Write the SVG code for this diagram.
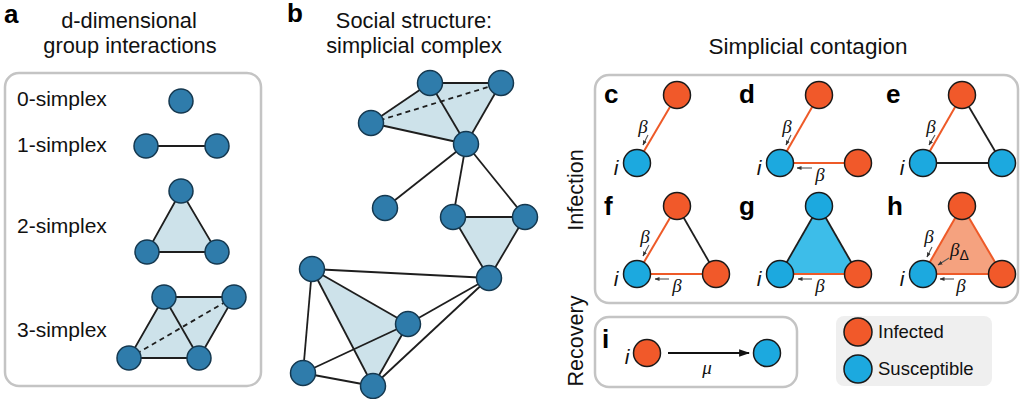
<svg xmlns="http://www.w3.org/2000/svg" width="1024" height="399" viewBox="0 0 1024 399">
<defs>
<style>
.t{font-family:"Liberation Sans",Arial,sans-serif;font-size:21px;fill:#111}
.ti{font-size:21.8px}
.tc{text-anchor:middle}
.lb{font-family:"Liberation Sans",Arial,sans-serif;font-weight:bold;font-size:26px;fill:#000}
.gk{font-family:"Liberation Serif","Times New Roman",serif;font-style:italic;font-size:19px;fill:#111}
.iv{font-family:"Liberation Sans",Arial,sans-serif;font-style:italic;font-size:21px;fill:#111;text-anchor:middle}
.box{fill:none;stroke:#c4c4c4;stroke-width:2.5}
.sn{fill:#2f7cab;stroke:#15384f;stroke-width:1.5}
.sf{fill:#cde2ea;stroke:none}
.se{stroke:#1e1e1e;stroke-width:1.8;fill:none}
.sd{stroke:#1e1e1e;stroke-width:1.8;fill:none;stroke-dasharray:5,4}
.inf{fill:#f1592a;stroke:#1a1a1a;stroke-width:1.5}
.sus{fill:#1ca9df;stroke:#1a1a1a;stroke-width:1.5}
.oe{stroke:#ee5a28;stroke-width:2;fill:none}
.ke{stroke:#1e1e1e;stroke-width:1.8;fill:none}
.ar{stroke:#555;stroke-width:1.1;fill:none;marker-end:url(#sa)}
</style>
<marker id="sa" viewBox="0 0 10 10" refX="9" refY="5" markerWidth="5" markerHeight="5" orient="auto" markerUnits="userSpaceOnUse">
<path d="M0,1 L10,5 L0,9 z" fill="#333"/>
</marker>
<marker id="ba" viewBox="0 0 10 10" refX="9" refY="5" markerWidth="11" markerHeight="11" orient="auto" markerUnits="userSpaceOnUse">
<path d="M0,1.5 L10,5 L0,8.5 z" fill="#111"/>
</marker>
</defs>

<!-- Panel a -->
<g id="panel-a">
<text class="lb" x="4" y="23">a</text>
<text class="t ti tc" x="129" y="28">d-dimensional</text>
<text class="t ti tc" x="130" y="53">group interactions</text>
<rect class="box" x="5" y="73" width="256" height="313" rx="14"/>
<text class="t" x="17" y="106">0-simplex</text>
<text class="t" x="17" y="152">1-simplex</text>
<text class="t" x="17" y="233">2-simplex</text>
<text class="t" x="17" y="337">3-simplex</text>
</g>
<g id="simplex-0"><circle class="sn" cx="181" cy="101" r="12"/></g>
<g id="simplex-1">
<line class="se" x1="146" y1="146" x2="217" y2="146"/>
<circle class="sn" cx="146" cy="146" r="12"/><circle class="sn" cx="217" cy="146" r="12"/>
</g>
<g id="simplex-2">
<polygon class="sf" points="181,191 147,252 217,252"/>
<polygon class="se" points="181,191 147,252 217,252"/>
<circle class="sn" cx="181" cy="191" r="12"/><circle class="sn" cx="147" cy="252" r="12"/><circle class="sn" cx="217" cy="252" r="12"/>
</g>
<g id="simplex-3">
<polygon class="sf" points="164,297 234,297 199,358 129,358"/>
<polygon class="se" points="164,297 234,297 199,358 129,358"/>
<line class="se" x1="164" y1="297" x2="199" y2="358"/>
<line class="sd" x1="234" y1="297" x2="129" y2="358"/>
<circle class="sn" cx="164" cy="297" r="12"/><circle class="sn" cx="234" cy="297" r="12"/><circle class="sn" cx="129" cy="358" r="12"/><circle class="sn" cx="199" cy="358" r="12"/>
</g>

<!-- Panel b -->
<g id="panel-b">
<text class="lb" x="287" y="22">b</text>
<text class="t ti tc" x="414" y="28">Social structure:</text>
<text class="t ti tc" x="414" y="53">simplicial complex</text>
<polygon class="sf" points="371,123 430,83 501,83 466,144"/>
<polygon class="sf" points="453,217 525,217 489,278"/>
<polygon class="sf" points="312,269 408,324 373,386"/>
</g>
<g id="connectors-b">
<line class="se" x1="430" y1="83" x2="501" y2="83"/>
<line class="se" x1="430" y1="83" x2="371" y2="123"/>
<line class="se" x1="430" y1="83" x2="466" y2="144"/>
<line class="se" x1="501" y1="83" x2="466" y2="144"/>
<line class="se" x1="371" y1="123" x2="466" y2="144"/>
<line class="sd" x1="371" y1="123" x2="501" y2="83"/>
<line class="se" x1="466" y1="144" x2="385" y2="208"/>
<line class="se" x1="466" y1="144" x2="453" y2="217"/>
<line class="se" x1="466" y1="144" x2="525" y2="217"/>
<line class="se" x1="453" y1="217" x2="525" y2="217"/>
<line class="se" x1="453" y1="217" x2="489" y2="278"/>
<line class="se" x1="525" y1="217" x2="489" y2="278"/>
<line class="se" x1="312" y1="269" x2="489" y2="278"/>
<line class="se" x1="408" y1="324" x2="489" y2="278"/>
<line class="se" x1="373" y1="386" x2="489" y2="278"/>
<line class="se" x1="312" y1="269" x2="408" y2="324"/>
<line class="se" x1="312" y1="269" x2="373" y2="386"/>
<line class="se" x1="312" y1="269" x2="303" y2="373"/>
<line class="se" x1="303" y1="373" x2="408" y2="324"/>
<line class="se" x1="303" y1="373" x2="373" y2="386"/>
<line class="se" x1="408" y1="324" x2="373" y2="386"/>
</g>
<g id="nodes-b">
<circle class="sn" cx="430" cy="83" r="12.5"/>
<circle class="sn" cx="501" cy="83" r="12.5"/>
<circle class="sn" cx="371" cy="123" r="12.5"/>
<circle class="sn" cx="466" cy="144" r="12.5"/>
<circle class="sn" cx="385" cy="208" r="12.5"/>
<circle class="sn" cx="453" cy="217" r="12.5"/>
<circle class="sn" cx="525" cy="217" r="12.5"/>
<circle class="sn" cx="489" cy="278" r="12.5"/>
<circle class="sn" cx="312" cy="269" r="12.5"/>
<circle class="sn" cx="408" cy="324" r="12.5"/>
<circle class="sn" cx="303" cy="373" r="12.5"/>
<circle class="sn" cx="373" cy="386" r="12.5"/>
</g>

<!-- Simplicial contagion -->
<g id="contagion-frame">
<text class="t tc" x="808" y="54" style="font-size:22.5px">Simplicial contagion</text>
<rect class="box" x="595" y="75" width="423" height="228" rx="14"/>
<text class="t tc" transform="translate(583,190) rotate(-90)" style="font-size:21.5px">Infection</text>
<text class="t tc" transform="translate(583,341) rotate(-90)" style="font-size:21.5px">Recovery</text>
</g>

<g id="panel-c">
<text class="lb" x="604" y="103">c</text>
<line class="oe" x1="637" y1="163" x2="677" y2="95"/>
<circle class="inf" cx="677" cy="95" r="13.5"/>
<circle class="sus" cx="637" cy="163" r="13.5"/>
<text class="gk" x="643" y="133" text-anchor="middle">β</text>
<line class="ar" x1="648" y1="135" x2="643" y2="145"/>
<text class="iv" x="616" y="175">i</text>
</g>

<g id="panel-d">
<text class="lb" x="739" y="103">d</text>
<line class="oe" x1="780" y1="163" x2="819" y2="95"/>
<line class="oe" x1="780" y1="163" x2="858" y2="163"/>
<circle class="inf" cx="819" cy="95" r="13.5"/>
<circle class="inf" cx="858" cy="163" r="13.5"/>
<circle class="sus" cx="780" cy="163" r="13.5"/>
<text class="gk" x="787" y="133" text-anchor="middle">β</text>
<line class="ar" x1="791" y1="135" x2="786" y2="145"/>
<line class="ar" x1="812" y1="168" x2="797" y2="168"/>
<text class="gk" x="820" y="181" text-anchor="middle">β</text>
<text class="iv" x="759" y="175">i</text>
</g>

<g id="panel-e">
<text class="lb" x="886" y="103">e</text>
<line class="oe" x1="923" y1="163" x2="962" y2="95"/>
<line class="ke" x1="962" y1="95" x2="1002" y2="163"/>
<line class="ke" x1="923" y1="163" x2="1002" y2="163"/>
<circle class="inf" cx="962" cy="95" r="13.5"/>
<circle class="sus" cx="923" cy="163" r="13.5"/>
<circle class="sus" cx="1002" cy="163" r="13.5"/>
<text class="gk" x="931" y="133" text-anchor="middle">β</text>
<line class="ar" x1="935" y1="135" x2="929" y2="145"/>
<text class="iv" x="902" y="175">i</text>
</g>

<g id="panel-f">
<text class="lb" x="604" y="215">f</text>
<line class="oe" x1="637" y1="274" x2="677" y2="206"/>
<line class="ke" x1="677" y1="206" x2="716" y2="274"/>
<line class="oe" x1="637" y1="274" x2="716" y2="274"/>
<circle class="inf" cx="677" cy="206" r="13.5"/>
<circle class="inf" cx="716" cy="274" r="13.5"/>
<circle class="sus" cx="637" cy="274" r="13.5"/>
<text class="gk" x="645" y="243" text-anchor="middle">β</text>
<line class="ar" x1="649" y1="245" x2="643" y2="256"/>
<line class="ar" x1="669" y1="279" x2="655" y2="279"/>
<text class="gk" x="677" y="292" text-anchor="middle">β</text>
<text class="iv" x="616" y="286">i</text>
</g>

<g id="panel-g">
<text class="lb" x="739" y="215">g</text>
<polygon points="819,206 780,274 858,274" fill="#3dbde9"/>
<line class="ke" x1="780" y1="274" x2="819" y2="206"/>
<line class="ke" x1="819" y1="206" x2="858" y2="274"/>
<line class="oe" x1="780" y1="274" x2="858" y2="274"/>
<circle class="sus" cx="819" cy="206" r="13.5"/>
<circle class="inf" cx="858" cy="274" r="13.5"/>
<circle class="sus" cx="780" cy="274" r="13.5"/>
<line class="ar" x1="812" y1="279" x2="798" y2="279"/>
<text class="gk" x="820" y="292" text-anchor="middle">β</text>
<text class="iv" x="759" y="286">i</text>
</g>

<g id="panel-h">
<text class="lb" x="887" y="215">h</text>
<polygon points="962,206 923,274 1002,274" fill="#f5a27f"/>
<line class="oe" x1="923" y1="274" x2="962" y2="206"/>
<line class="oe" x1="962" y1="206" x2="1002" y2="274"/>
<line class="oe" x1="923" y1="274" x2="1002" y2="274"/>
<circle class="inf" cx="962" cy="206" r="13.5"/>
<circle class="inf" cx="1002" cy="274" r="13.5"/>
<circle class="sus" cx="923" cy="274" r="13.5"/>
<text class="gk" x="929" y="243" text-anchor="middle">β</text>
<line class="ar" x1="932" y1="247" x2="927" y2="257"/>
<text class="gk" x="950" y="256">β<tspan font-family="Liberation Sans, Arial, sans-serif" font-style="normal" font-size="14" dy="4">Δ</tspan></text>
<line class="ar" x1="949" y1="258" x2="938" y2="265"/>
<line class="ar" x1="954" y1="279" x2="940" y2="279"/>
<text class="gk" x="961" y="292" text-anchor="middle">β</text>
<text class="iv" x="902" y="286">i</text>
</g>

<g id="panel-i">
<rect class="box" x="595" y="317" width="202" height="70" rx="14"/>
<text class="lb" x="602" y="348">i</text>
<circle class="inf" cx="647" cy="353" r="13.5"/>
<line x1="668" y1="353" x2="749" y2="353" stroke="#111" stroke-width="1.8" marker-end="url(#ba)"/>
<circle class="sus" cx="767" cy="353" r="13.5"/>
<text class="iv" x="627" y="364">i</text>
<text class="gk" x="707" y="374" text-anchor="middle">μ</text>
</g>

<g id="legend">
<rect x="836" y="316" width="156" height="70" rx="8" fill="#efefef"/>
<circle class="inf" cx="858" cy="332" r="14"/>
<circle class="sus" cx="858" cy="369" r="14"/>
<text class="t" x="878" y="338" style="font-size:18.5px">Infected</text>
<text class="t" x="878" y="375" style="font-size:18.5px">Susceptible</text>
</g>
</svg>
